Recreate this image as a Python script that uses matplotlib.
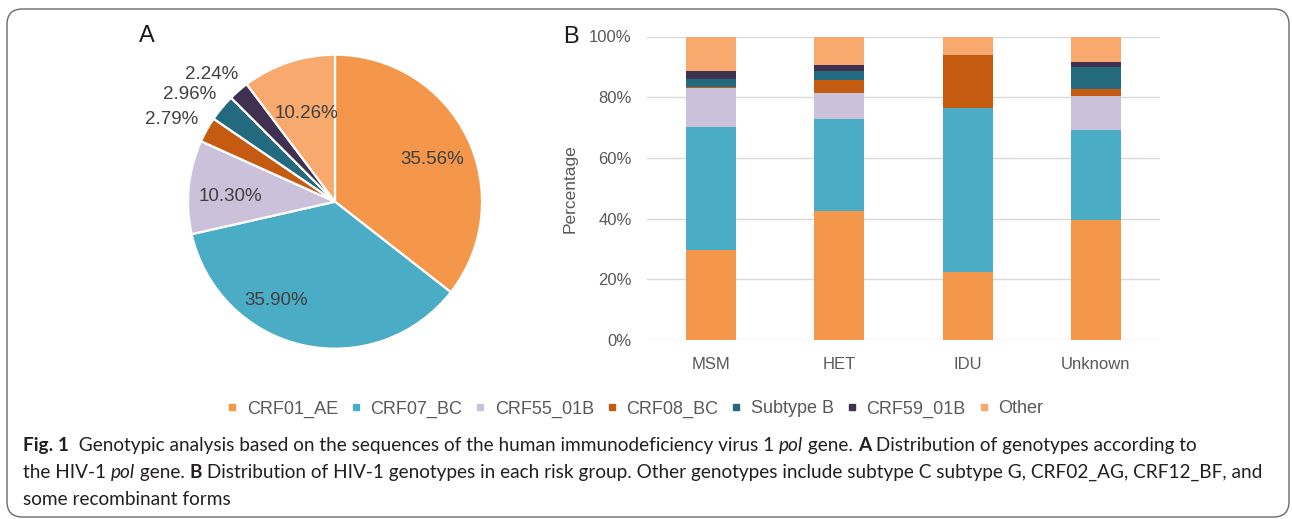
import matplotlib
matplotlib.use("Agg")
import matplotlib.pyplot as plt
import numpy as np
from matplotlib.lines import Line2D
from matplotlib.patches import FancyBboxPatch

plt.rcParams['font.family'] = ['Liberation Sans', 'DejaVu Sans']

# ---------------- data ----------------
genotypes = ["CRF01_AE", "CRF07_BC", "CRF55_01B", "CRF08_BC", "Subtype B", "CRF59_01B", "Other"]
colors = ["#F4974A", "#4BACC6", "#CCC1DA", "#C55A11", "#236A7E", "#403152", "#F7A96E"]
pie_pct = [35.56, 35.90, 10.30, 2.79, 2.96, 2.24, 10.26]

groups = ["MSM", "HET", "IDU", "Unknown"]
crf01_ae = [29.7, 42.5, 22.4, 39.5]
crf07_bc = [40.6, 30.3, 54.0, 29.6]
crf55_01b = [12.8, 8.5, 0.0, 11.3]
crf08_bc = [0.4, 4.3, 17.6, 2.2]
subtype_b = [2.5, 3.1, 0.0, 7.4]
crf59_01b = [2.6, 2.0, 0.0, 1.6]
other = [11.4, 9.3, 6.0, 8.4]
series = [crf01_ae, crf07_bc, crf55_01b, crf08_bc, subtype_b, crf59_01b, other]
yticks = [0, 20, 40, 60, 80, 100]

W, H = 1292, 519
fig = plt.figure(figsize=(W / 100, H / 100), dpi=100)

def fx(px):
    return px / W

def fy(py):
    return 1 - py / H

# ---------------- frame ----------------
box = FancyBboxPatch((fx(7), fy(517)), fx(1289) - fx(7), fy(9) - fy(517),
                     boxstyle="round,pad=0,rounding_size=0.012",
                     transform=fig.transFigure, facecolor="none",
                     edgecolor="#6b6b6b", linewidth=1.0, mutation_aspect=W / H)
fig.patches.append(box)

# ---------------- pie (A) ----------------
cx, cy, r = 335, 201.7, 147
ext = 1.03
axp = fig.add_axes([fx(cx - r * ext), fy(cy + r * ext), (2 * r * ext) / W, (2 * r * ext) / H])
axp.pie(pie_pct, colors=colors, startangle=90, counterclock=False,
        wedgeprops=dict(edgecolor="white", linewidth=1.6))
axp.set_xlim(-ext, ext)
axp.set_ylim(-ext, ext)
axp.set_aspect("equal")
axp.axis("off")
label_pos = [(0.658, 0.284), (-0.397, -0.669), (-0.714, 0.034), (-1.111, 0.556),
             (-0.986, 0.726), (-0.839, 0.862), (-0.193, 0.603)]
for v, (lx, ly) in zip(pie_pct, label_pos):
    axp.text(lx, ly, f"{v:.2f}%", ha="center", va="center", fontsize=13.5,
             color="#404040")

fig.text(fx(147), fy(36), "A", fontsize=17, ha="center", va="center", color="#1a1a1a")
fig.text(fx(571), fy(37), "B", fontsize=17, ha="center", va="center", color="#1a1a1a")

# ---------------- stacked bar (B) ----------------
axb = fig.add_axes([fx(647), fy(340), (1160 - 647) / W, (340 - 36.5) / H])
x = np.arange(len(groups))
bottom = np.zeros(len(groups))
for vals, c in zip(series, colors):
    axb.bar(x, vals, bottom=bottom, width=0.39, color=c, zorder=3)
    bottom += np.array(vals)
axb.set_xlim(-0.5, len(groups) - 0.5)
axb.set_ylim(0, 100)
axb.set_yticks(yticks)
axb.set_yticklabels([f"{t}%" for t in yticks])
axb.set_xticks(x)
axb.set_xticklabels(groups)
axb.tick_params(axis="both", length=0, labelsize=12, labelcolor="#595959")
axb.tick_params(axis="y", pad=11)
axb.tick_params(axis="x", pad=12)
axb.grid(axis="y", color="#D9D9D9", linewidth=1.0, zorder=0)
for s in axb.spines.values():
    s.set_visible(False)
axb.set_ylabel("Percentage", fontsize=12.5, color="#595959", labelpad=8)

# ---------------- legend ----------------
handles = [Line2D([], [], marker="s", linestyle="", markersize=5, color=c) for c in colors]
fig.legend(handles, genotypes, loc="center", bbox_to_anchor=(fx(635.5), fy(409)),
           ncol=7, frameon=False, fontsize=13, handlelength=0.5, handletextpad=0.55,
           columnspacing=0.75, labelcolor="#595959", borderpad=0, borderaxespad=0)

# ---------------- caption ----------------
cap_family = ["Lato", "DejaVu Sans"]
cap_size = 13.7
renderer = fig.canvas.get_renderer()

def rich_line(x_px, y_px, segments):
    xx = x_px
    for txt, weight, style in segments:
        t = fig.text(fx(xx), fy(y_px), txt, fontsize=cap_size, fontweight=weight,
                     fontstyle=style, family=cap_family, ha="left", va="baseline",
                     color="#231f20")
        bb = t.get_window_extent(renderer)
        xx += bb.width

rich_line(23, 451, [("Fig. 1", "bold", "normal"),
                    ("  Genotypic analysis based on the sequences of the human immunodeficiency virus 1 ", "normal", "normal"),
                    ("pol", "normal", "italic"),
                    (" gene. ", "normal", "normal"),
                    ("A", "bold", "normal"),
                    (" Distribution of genotypes according to", "normal", "normal")])
rich_line(23, 478, [("the HIV-1 ", "normal", "normal"),
                    ("pol", "normal", "italic"),
                    (" gene. ", "normal", "normal"),
                    ("B", "bold", "normal"),
                    (" Distribution of HIV-1 genotypes in each risk group. Other genotypes include subtype C subtype G, CRF02_AG, CRF12_BF, and", "normal", "normal")])
rich_line(23, 505, [("some recombinant forms", "normal", "normal")])

fig.savefig("out.png", dpi=100)
